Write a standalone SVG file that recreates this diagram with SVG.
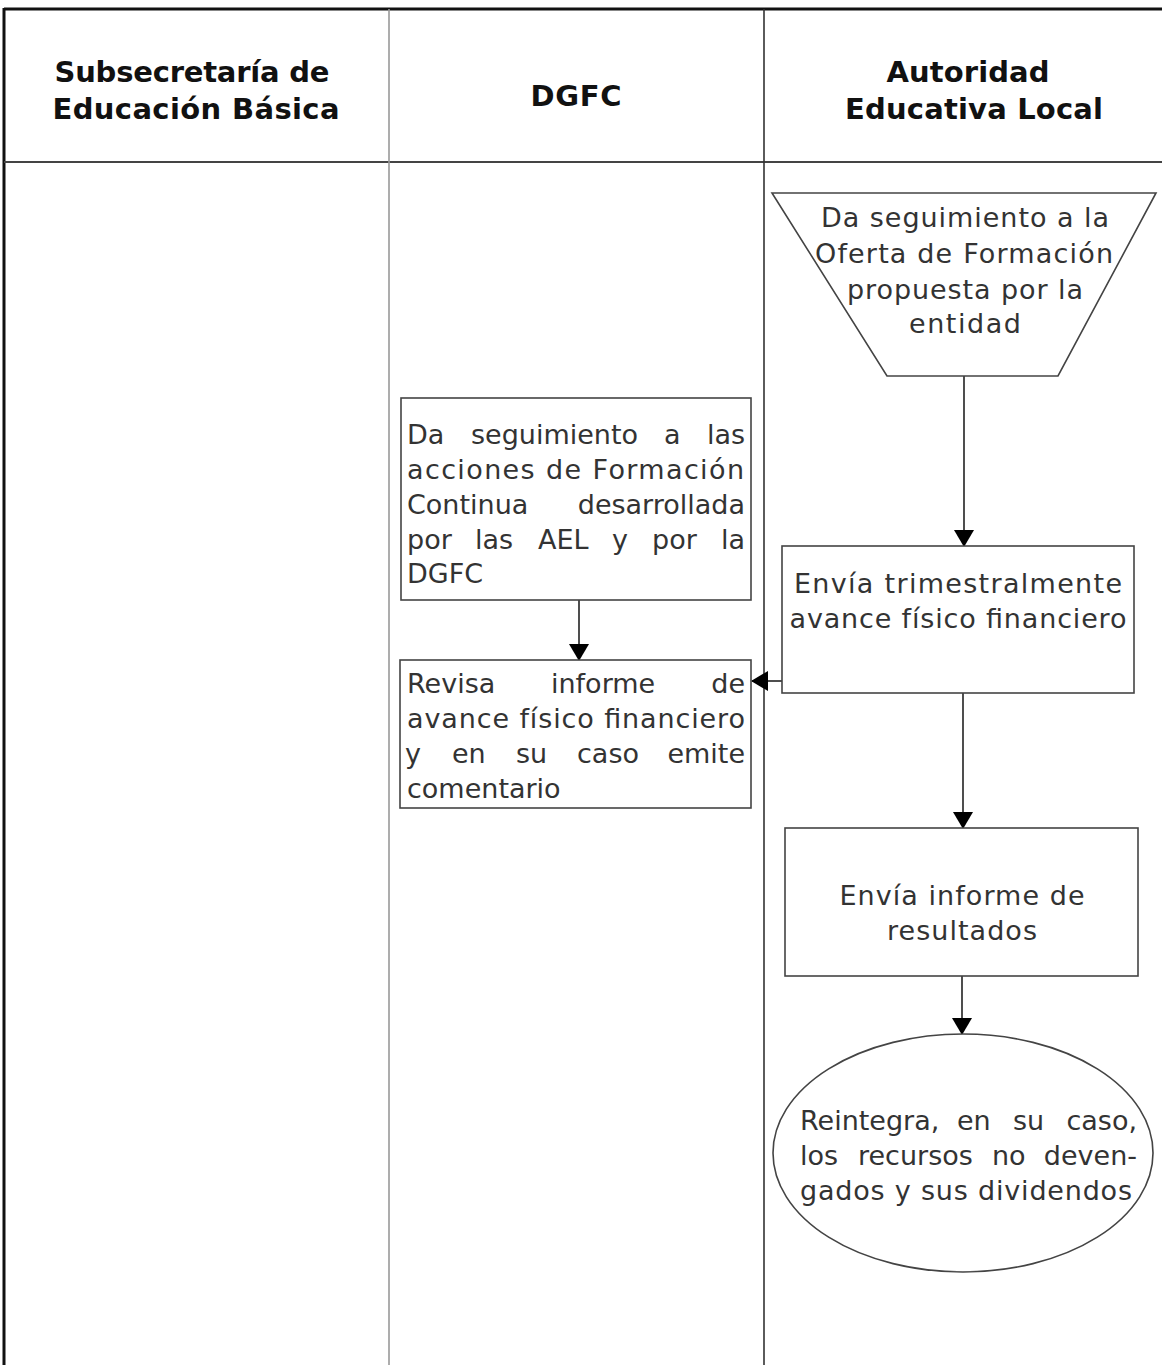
<svg xmlns="http://www.w3.org/2000/svg" width="1162" height="1365" viewBox="0 0 1162 1365">
<style>
.h{font-family:"DejaVu Sans","Liberation Sans",sans-serif;font-weight:bold;font-size:29px;fill:#111;}
.t{font-family:"DejaVu Sans","Liberation Sans",sans-serif;font-size:27px;fill:#333;}
.e{text-anchor:end;}
.s{fill:#fff;stroke:#444;stroke-width:1.6;}
.c{stroke:#222;stroke-width:1.6;fill:none;}
</style>
<defs>
<marker id="ah" markerWidth="17" markerHeight="20" refX="16" refY="10" orient="auto" markerUnits="userSpaceOnUse">
<path d="M0,0 L17,10 L0,20 Z" fill="#000"/>
</marker>
</defs>
<rect width="1162" height="1365" fill="#fff"/>
<g id="lanes">
<line x1="4" y1="9" x2="1162" y2="9" stroke="#111" stroke-width="3"/>
<line x1="4" y1="8" x2="4" y2="1365" stroke="#111" stroke-width="3"/>
<line x1="4" y1="162" x2="1162" y2="162" stroke="#444" stroke-width="2"/>
<line x1="389" y1="9" x2="389" y2="1365" stroke="#999" stroke-width="1.6"/>
<line x1="764" y1="9" x2="764" y2="1365" stroke="#333" stroke-width="1.6"/>
<text class="h" x="192" y="82" text-anchor="middle" textLength="275">Subsecretaría de</text>
<text class="h" x="196" y="119" text-anchor="middle" textLength="287">Educación Básica</text>
<text class="h" x="576" y="106" text-anchor="middle" textLength="91">DGFC</text>
<text class="h" x="968" y="82" text-anchor="middle" textLength="163">Autoridad</text>
<text class="h" x="974" y="119" text-anchor="middle" textLength="258">Educativa Local</text>
</g>
<g id="connectors">
<line class="c" x1="964" y1="376" x2="964" y2="546" marker-end="url(#ah)"/>
<line class="c" x1="579" y1="600" x2="579" y2="660" marker-end="url(#ah)"/>
<line class="c" x1="782" y1="681" x2="752" y2="681" marker-end="url(#ah)"/>
<line class="c" x1="963" y1="693" x2="963" y2="828" marker-end="url(#ah)"/>
<line class="c" x1="962" y1="976" x2="962" y2="1034" marker-end="url(#ah)"/>
</g>
<g id="n1">
<polygon class="s" points="772,193 1156,193 1058,376 887,376"/>
<text class="t" x="965" y="227" text-anchor="middle" textLength="288">Da seguimiento a la</text>
<text class="t" x="964" y="263" text-anchor="middle" textLength="298">Oferta de Formación</text>
<text class="t" x="965" y="299" text-anchor="middle" textLength="236">propuesta por la</text>
<text class="t" x="965" y="333" text-anchor="middle" textLength="112">entidad</text>
</g>
<g id="n2">
<rect class="s" x="401" y="398" width="350" height="202"/>
<text class="t" y="444"><tspan x="407">Da</tspan><tspan x="471">seguimiento</tspan><tspan x="664">a</tspan></text>
<text class="t e" x="745" y="444">las</text>
<text class="t" x="407" y="479" textLength="337">acciones de Formación</text>
<text class="t" x="407" y="514">Continua</text>
<text class="t e" x="745" y="514">desarrollada</text>
<text class="t" y="549"><tspan x="407">por</tspan><tspan x="475">las</tspan><tspan x="538">AEL</tspan><tspan x="612">y</tspan><tspan x="652">por</tspan></text>
<text class="t e" x="745" y="549">la</text>
<text class="t" x="407" y="583">DGFC</text>
</g>
<g id="n3">
<rect class="s" x="400" y="660" width="351" height="148"/>
<text class="t" y="693"><tspan x="407">Revisa</tspan><tspan x="551">informe</tspan></text>
<text class="t e" x="745" y="693">de</text>
<text class="t" x="407" y="728" textLength="338">avance físico financiero</text>
<text class="t" y="763"><tspan x="405">y</tspan><tspan x="452">en</tspan><tspan x="516">su</tspan><tspan x="577">caso</tspan></text>
<text class="t e" x="745" y="763">emite</text>
<text class="t" x="407" y="798">comentario</text>
</g>
<g id="n4">
<rect class="s" x="782" y="546" width="352" height="147"/>
<text class="t" x="958" y="593" text-anchor="middle" textLength="328">Envía trimestralmente</text>
<text class="t" x="958" y="628" text-anchor="middle" textLength="337">avance físico financiero</text>
</g>
<g id="n5">
<rect class="s" x="785" y="828" width="353" height="148"/>
<text class="t" x="962" y="905" text-anchor="middle" textLength="245">Envía informe de</text>
<text class="t" x="962" y="940" text-anchor="middle" textLength="150">resultados</text>
</g>
<g id="n6">
<ellipse class="s" cx="963" cy="1153" rx="190" ry="119"/>
<text class="t" y="1130"><tspan x="800">Reintegra,</tspan><tspan x="957">en</tspan><tspan x="1013">su</tspan></text>
<text class="t e" x="1137" y="1130">caso,</text>
<text class="t" y="1165"><tspan x="800">los</tspan><tspan x="858">recursos</tspan><tspan x="992">no</tspan></text>
<text class="t e" x="1137" y="1165">deven-</text>
<text class="t" x="800" y="1200" textLength="332">gados y sus dividendos</text>
</g>
</svg>
